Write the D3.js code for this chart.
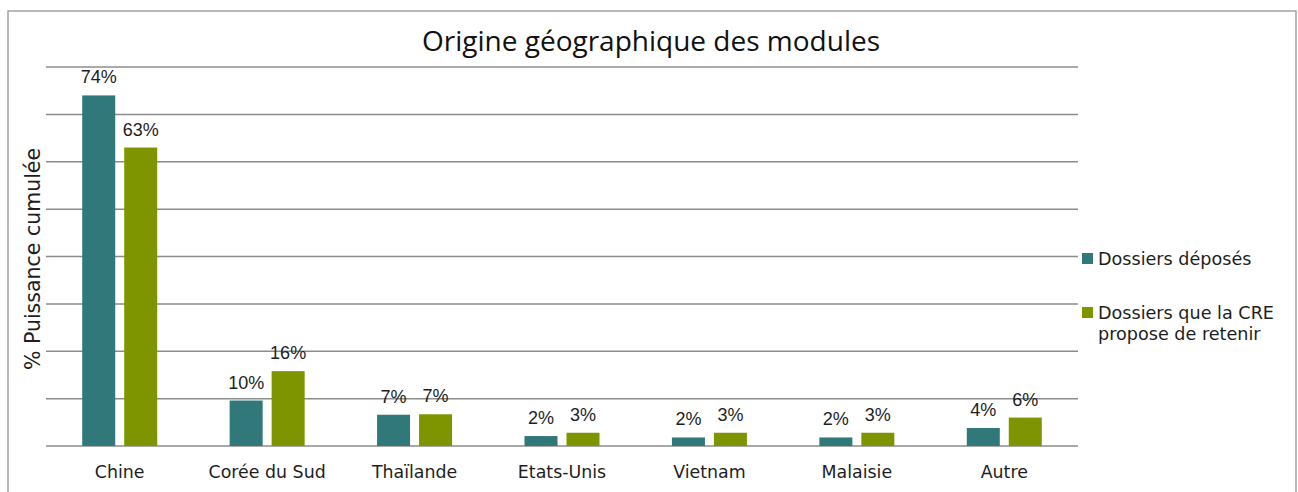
<!DOCTYPE html>
<html>
<head>
<meta charset="utf-8">
<script src="https://cdn.jsdelivr.net/npm/d3@7"></script>
<style>
	body { margin: 0; background: #fff; }
	text { font-family: 'DejaVu Sans', sans-serif; fill: #1e1e1e; }
</style>
</head>
<body>
<div class="chart"></div>
<script>
// données
const categories = ['Chine', 'Corée du Sud', 'Thaïlande', 'Etats-Unis', 'Vietnam', 'Malaisie', 'Autre']
const deposes = [74, 9.6, 6.6, 2.1, 1.8, 1.8, 3.8]
const retenus = [63, 15.8, 6.7, 2.8, 2.8, 2.8, 6.0]
const labelsDeposes = ['74%', '10%', '7%', '2%', '2%', '2%', '4%']
const labelsRetenus = ['63%', '16%', '7%', '3%', '3%', '3%', '6%']
const yTicks = [0, 10, 20, 30, 40, 50, 60, 70, 80]

const series = [
	{ name: 'Dossiers déposés', values: deposes, labels: labelsDeposes, color: '#31787a' },
	{ name: 'Dossiers que la CRE|propose de retenir', values: retenus, labels: labelsRetenus, color: '#7f9500' }
]

const width = 1298
const height = 492
const margin = { top: 67, right: 220, bottom: 46, left: 46 }
const plotRight = 1078
const groupW = 75

const svg = d3.select('.chart').append('svg')
	.attr('width', width)
	.attr('height', height)

// cadre
svg.append('rect')
	.attr('x', 8).attr('y', 11)
	.attr('width', 1288).attr('height', 500)
	.attr('fill', 'none')
	.attr('stroke', '#a3a3a3')
	.attr('stroke-width', 1.5)

const scaleX = d3.scaleBand()
	.domain(categories)
	.range([margin.left, plotRight])

const scaleY = d3.scaleLinear()
	.domain([0, 80])
	.range([height - margin.bottom, margin.top])

const scaleSeries = d3.scaleBand()
	.domain(series.map((d, i) => i))
	.range([0, groupW])
	.paddingInner(0.214)

// grille
svg.append('g')
	.attr('class', 'grid')
	.selectAll('line')
	.data(yTicks)
	.enter().append('line')
		.attr('x1', margin.left)
		.attr('x2', plotRight)
		.attr('y1', d => scaleY(d))
		.attr('y2', d => scaleY(d))
		.attr('stroke', '#8c8c8c')
		.attr('stroke-width', 1.5)

// barres
series.forEach((s, si) => {
	const g = svg.append('g').attr('class', 'series series--' + si)
	const xOf = c => scaleX(c) + (scaleX.bandwidth() - groupW) / 2 + scaleSeries(si)

	g.selectAll('rect')
		.data(categories)
		.enter().append('rect')
			.attr('x', xOf)
			.attr('y', (c, i) => scaleY(s.values[i]))
			.attr('width', scaleSeries.bandwidth())
			.attr('height', (c, i) => scaleY(0) - scaleY(s.values[i]))
			.attr('fill', s.color)

	g.selectAll('text')
		.data(categories)
		.enter().append('text')
			.attr('x', c => xOf(c) + scaleSeries.bandwidth() / 2)
			.attr('y', (c, i) => scaleY(s.values[i]) - 12)
			.attr('text-anchor', 'middle')
			.style('font-family', "'Liberation Sans', Arial, sans-serif")
			.style('font-size', '18px')
			.text((c, i) => s.labels[i])
})

// axe x
svg.append('g')
	.attr('class', 'x-labels')
	.selectAll('text')
	.data(categories)
	.enter().append('text')
		.attr('x', c => scaleX(c) + scaleX.bandwidth() / 2)
		.attr('y', 478)
		.attr('text-anchor', 'middle')
		.style('font-size', '17.4px')
		.text(d => d)

// titre
svg.append('text')
	.attr('x', 651)
	.attr('y', 51)
	.attr('text-anchor', 'middle')
	.style('font-family', "'Open Sans', sans-serif")
	.style('font-size', '28px')
	.style('fill', '#111')
	.text('Origine géographique des modules')

// titre axe y
svg.append('text')
	.attr('transform', 'translate(40, 259) rotate(-90)')
	.attr('text-anchor', 'middle')
	.style('font-size', '20.5px')
	.text('% Puissance cumulée')

// légende
const legend = svg.append('g')
	.attr('class', 'legend')
	.attr('transform', 'translate(1082, 0)')

const legendY = [259, 313]
series.forEach((s, si) => {
	legend.append('rect')
		.attr('x', 0)
		.attr('y', legendY[si] - 6)
		.attr('width', 11)
		.attr('height', 11)
		.attr('fill', s.color)
	s.name.split('|').forEach((line, li) => {
		legend.append('text')
			.attr('x', 16)
			.attr('y', legendY[si] + 6 + li * 21)
			.style('font-size', '17.6px')
			.text(line)
	})
})
</script>
</body>
</html>
